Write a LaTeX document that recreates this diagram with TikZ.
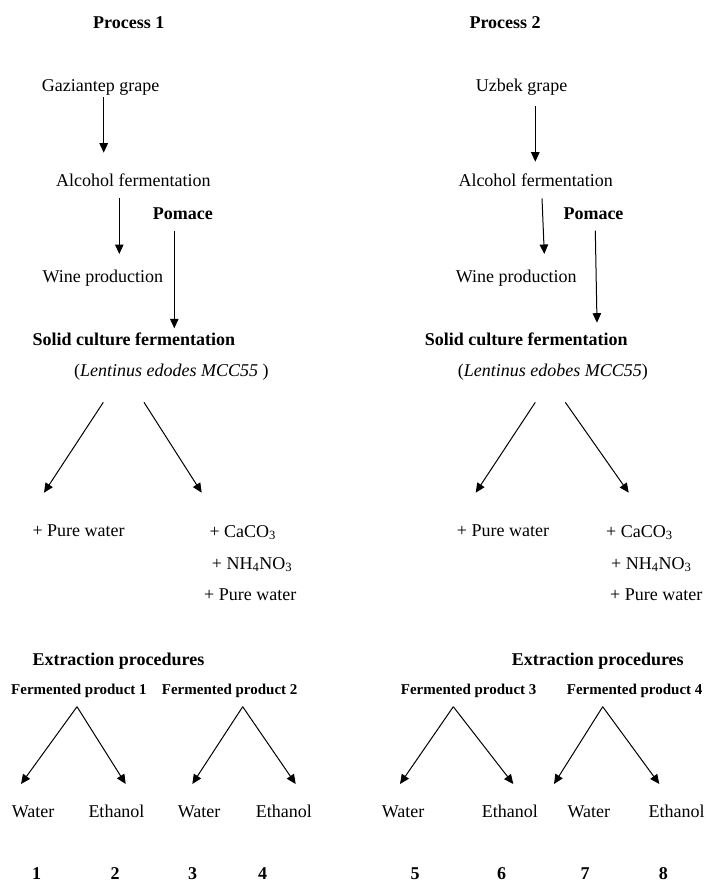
\documentclass[tikz,border=0pt]{standalone}
\usepackage{fontspec}
\setmainfont{Liberation Serif}
\usetikzlibrary{arrows.meta}
\begin{document}
\begin{tikzpicture}[x=1pt,y=-1pt,
  txt/.style={inner sep=0pt, anchor=base west, font=\fontsize{18}{22}\selectfont},
  btxt/.style={inner sep=0pt, anchor=base west, font=\fontsize{18}{22}\selectfont\bfseries},
  ftxt/.style={inner sep=0pt, anchor=base west, font=\fontsize{15}{18}\selectfont\bfseries},
  num/.style={inner sep=0pt, anchor=base, font=\fontsize{18}{22}\selectfont\bfseries},
  arr/.style={-{Triangle[length=9.5pt,width=8.5pt]}, line width=1pt}]
\useasboundingbox (0,0) rectangle (706,883);

% ---------- Process 1 ----------
\node[btxt] (p1) at (93,29) {Process 1};
\node[txt] (g1) at (41.7,91.7) {Gaziantep grape};
\node[txt] (a1) at (56,186.7) {Alcohol fermentation};
\node[btxt] (pm1) at (152.7,219.3) {Pomace};
\node[txt] (w1) at (42.3,282.7) {Wine production};
\node[btxt] (s1) at (32.3,345.7) {Solid culture fermentation};
\node[txt] (l1) at (74,376.7) {(\textit{Lentinus edodes MCC55} )};
\node[txt] (pw1) at (32.3,536.7) {+ Pure water};
\node[txt] (c1) at (209.3,537.3) {+ CaCO\textsubscript{3}};
\node[txt] (n1) at (211.7,569.3) {+ NH\textsubscript{4}NO\textsubscript{3}};
\node[txt] (pw1b) at (204,600.7) {+ Pure water};
\node[btxt] (e1) at (32.3,665) {Extraction procedures};
\node[ftxt] (f1) at (11,694) {Fermented product 1};
\node[ftxt] (f2) at (161.7,694) {Fermented product 2};
\node[txt] (wa1) at (11.7,817.3) {Water};
\node[txt] (et1) at (88.3,817.3) {Ethanol};
\node[txt] (wa2) at (177.7,817.3) {Water};
\node[txt] (et2) at (255.7,817.3) {Ethanol};
\node[num] (n01) at (36.7,879.5) {1};
\node[num] (n02) at (115,879.5) {2};
\node[num] (n03) at (192.7,879.5) {3};
\node[num] (n04) at (262.7,879.5) {4};

\coordinate (g1s) at (103.7,97);   \coordinate (g1e) at (103.7,152.7);
\coordinate (a1s) at (119.3,198.3); \coordinate (a1e) at (119.3,254);
\coordinate (pm1s) at (174.3,230.7); \coordinate (pm1e) at (174.3,328.3);
\coordinate (l1a) at (103.3,402.3); \coordinate (l1b) at (44,492.7);
\coordinate (l1c) at (144,402.3); \coordinate (l1d) at (201.7,492.7);
\coordinate (f1a) at (77,706.7); \coordinate (f1l) at (21,784); \coordinate (f1r) at (125.7,784);
\coordinate (f2a) at (242.7,706.7); \coordinate (f2l) at (192.3,784); \coordinate (f2r) at (295.7,784);

\draw[arr] (g1s) -- (g1e);
\draw[arr] (a1s) -- (a1e);
\draw[arr] (pm1s) -- (pm1e);
\draw[arr] (l1a) -- (l1b);
\draw[arr] (l1c) -- (l1d);
\draw[arr] (f1a) -- (f1l);
\draw[arr] (f1a) -- (f1r);
\draw[arr] (f2a) -- (f2l);
\draw[arr] (f2a) -- (f2r);

% ---------- Process 2 ----------
\node[btxt] (p2) at (469.3,29) {Process 2};
\node[txt] (g2) at (475.7,91.7) {Uzbek grape};
\node[txt] (a2) at (458.3,186.7) {Alcohol fermentation};
\node[btxt] (pm2) at (563.3,219.3) {Pomace};
\node[txt] (w2) at (455.7,282.7) {Wine production};
\node[btxt] (s2) at (424.7,345.7) {Solid culture fermentation};
\node[txt] (l2) at (457.7,376.7) {(\textit{Lentinus edobes MCC55})};
\node[txt] (pw2) at (456.7,536.7) {+ Pure water};
\node[txt] (c2) at (606,537) {+ CaCO\textsubscript{3}};
\node[txt] (n2) at (611,569.3) {+ NH\textsubscript{4}NO\textsubscript{3}};
\node[txt] (pw2b) at (610,600.7) {+ Pure water};
\node[btxt] (e2) at (511.7,665) {Extraction procedures};
\node[ftxt] (f3) at (400.7,694) {Fermented product 3};
\node[ftxt] (f4) at (566.7,694) {Fermented product 4};
\node[txt] (wa3) at (381.7,817.3) {Water};
\node[txt] (et3) at (481.7,817.3) {Ethanol};
\node[txt] (wa4) at (567.3,817.3) {Water};
\node[txt] (et4) at (648.3,817.3) {Ethanol};
\node[num] (n05) at (415,879.5) {5};
\node[num] (n06) at (501.7,879.5) {6};
\node[num] (n07) at (585,879.5) {7};
\node[num] (n08) at (663.3,879.5) {8};

\coordinate (g2s) at (535.3,106);   \coordinate (g2e) at (535.3,161.7);
\coordinate (a2s) at (542,198.3); \coordinate (a2e) at (544.3,254);
\coordinate (pm2s) at (595.3,230.7); \coordinate (pm2e) at (597,322.7);
\coordinate (l2a) at (535.3,402.3); \coordinate (l2b) at (475.7,492.7);
\coordinate (l2c) at (565.3,402.3); \coordinate (l2d) at (628.7,492.7);
\coordinate (f3a) at (453.3,706.7); \coordinate (f3l) at (400,784); \coordinate (f3r) at (513.3,784);
\coordinate (f4a) at (602.7,706.7); \coordinate (f4l) at (554,784); \coordinate (f4r) at (659.3,784);

\draw[arr] (g2s) -- (g2e);
\draw[arr] (a2s) -- (a2e);
\draw[arr] (pm2s) -- (pm2e);
\draw[arr] (l2a) -- (l2b);
\draw[arr] (l2c) -- (l2d);
\draw[arr] (f3a) -- (f3l);
\draw[arr] (f3a) -- (f3r);
\draw[arr] (f4a) -- (f4l);
\draw[arr] (f4a) -- (f4r);
\end{tikzpicture}
\end{document}
